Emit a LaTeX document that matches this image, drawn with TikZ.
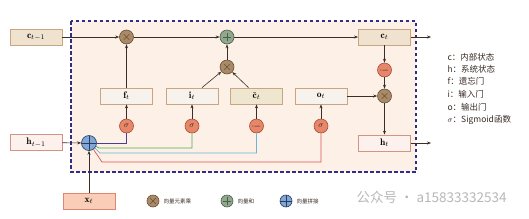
\documentclass[tikz,border=0pt]{standalone}
\usepackage{fontspec}
\newfontfamily\cjk{Noto Sans CJK SC}
\usetikzlibrary{arrows.meta}
\definecolor{bgin}{HTML}{FDF1E7}
\definecolor{navy}{HTML}{2E2E88}
\definecolor{tan}{HTML}{C9A584}
\definecolor{cfill}{HTML}{EFE2CF}
\definecolor{gfill}{HTML}{F7F2EC}
\definecolor{ctfill}{HTML}{EEE6CF}
\definecolor{hline}{HTML}{D49484}
\definecolor{hfill}{HTML}{FCF1EC}
\definecolor{xfill}{HTML}{F9CDB8}
\definecolor{xline}{HTML}{DD8770}
\definecolor{brownf}{HTML}{A98A68}
\definecolor{brownd}{HTML}{6B5030}
\definecolor{greenf}{HTML}{8FA88E}
\definecolor{greend}{HTML}{4A5E48}
\definecolor{bluef}{HTML}{7FA8D8}
\definecolor{blued}{HTML}{2B3A5C}
\definecolor{salf}{HTML}{E8866A}
\definecolor{sald}{HTML}{A84E3A}
\definecolor{ink}{HTML}{3A2E28}
\definecolor{lpurple}{HTML}{4B3F8F}
\definecolor{lgreen}{HTML}{4CAF50}
\definecolor{lblue}{HTML}{6BB5D6}
\definecolor{lred}{HTML}{D9534F}
\tikzset{
  box/.style={draw=tan, line width=0.8pt, minimum width=52pt, minimum height=16pt, inner sep=0pt, font=\fontsize{9.5}{10}\selectfont},
  cstate/.style={box, fill=cfill},
  gatebox/.style={box, fill=gfill},
  ctbox/.style={box, fill=ctfill},
  hbox/.style={box, draw=hline, fill=hfill},
  xbox/.style={box, draw=xline, fill=xfill},
  circ/.style={circle, minimum size=14pt, inner sep=0pt, line width=0.6pt},
  mulc/.style={circ, fill=brownf, draw=brownd, path picture={\draw[brownd, line width=0.4pt, shift={(path picture bounding box.center)}] (-2.8,-2.8)--(2.8,2.8) (-2.8,2.8)--(2.8,-2.8);}},
  addc/.style={circ, fill=greenf, draw=greend, path picture={\draw[greend, line width=0.5pt, shift={(path picture bounding box.center)}] (-4,0)--(4,0) (0,-4)--(0,4);}},
  catc/.style={circ, minimum size=15pt, fill=bluef, draw=blued, path picture={\draw[blued, line width=0.8pt, shift={(path picture bounding box.center)}] (-8,0)--(8,0) (0,-8)--(0,8);}},
  sigc/.style={circ, fill=salf, draw=sald, font=\fontsize{8}{8}\selectfont, text=ink},
  tanhc/.style={circ, fill=salf, draw=sald, font=\fontsize{3}{3}\selectfont, text=ink},
  arr/.style={draw=ink, line width=0.6pt, -{Stealth[length=4pt,width=3pt]}},
  feed/.style={line width=0.7pt},
  legtext/.style={anchor=west, font=\cjk\fontsize{8.5}{10}\selectfont, text=ink},
  smalltext/.style={anchor=west, font=\cjk\fontsize{5.5}{6}\selectfont, text=ink},
}
\begin{document}
\begin{tikzpicture}[x=1pt,y=-1pt]
\useasboundingbox (0,0) rectangle (529,218);
\fill[white] (0,0) rectangle (529,218);
% cell area
\draw[navy, fill=bgin, line width=1.3pt, dash pattern=on 3.5pt off 2.5pt] (71,21) rectangle (416,172);
% boxes
\node[cstate] (cprev) at (36,37) {$\mathbf{c}_{t-1}$};
\node[cstate] (ct) at (384.5,37) {$\mathbf{c}_{t}$};
\node[gatebox] (ft) at (126.5,96) {$\mathbf{f}_{t}$};
\node[gatebox] (it) at (192,96) {$\mathbf{i}_{t}$};
\node[ctbox] (cta) at (256.5,96) {$\tilde{\mathbf{c}}_{t}$};
\node[gatebox] (ot) at (321,96) {$\mathbf{o}_{t}$};
\node[hbox] (hprev) at (36,142.5) {$\mathbf{h}_{t-1}$};
\node[hbox] (ht) at (384.5,143) {$\mathbf{h}_{t}$};
\node[xbox] (xt) at (89,201) {$\mathbf{x}_{t}$};
% operators
\node[mulc] (m1) at (126.5,37) {};
\node[addc] (add) at (227,37) {};
\node[mulc] (m2) at (227,67) {};
\node[tanhc] (tc) at (384.5,70) {tanh};
\node[mulc] (m3) at (384.5,96) {};
\node[catc] (cat) at (89,143) {};
\node[sigc] (s1) at (126.5,126) {$\sigma$};
\node[sigc] (s2) at (192,126) {$\sigma$};
\node[tanhc] (s3) at (256.5,126) {tanh};
\node[sigc] (s4) at (321,126) {$\sigma$};
\coordinate (cout) at (431,37);
\coordinate (hout) at (431,143);
% connectors
\draw[arr] (cprev) -- (m1);
\draw[arr] (m1) -- (add);
\draw[arr] (add) -- (ct);
\draw[arr] (ct) -- (cout);
\draw[arr] (ft) -- (m1);
\draw[arr] ([xshift=10pt]it.north) -- (m2);
\draw[arr] ([xshift=-8pt]cta.north) -- (m2);
\draw[arr] (m2) -- (add);
\draw[arr] (ct) -- (tc);
\draw[arr] (tc) -- (m3);
\draw[arr] (ot) -- (m3);
\draw[arr] (m3) -- (ht);
\draw[arr] (ht) -- (hout);
\draw[arr] (hprev) -- (cat);
\draw[arr] (xt) -- (cat);
\draw[arr] (s1) -- (ft);
\draw[arr] (s2) -- (it);
\draw[arr] (s3) -- (cta);
\draw[arr] (s4) -- (ot);
\draw[feed, lpurple] (cat.east) -| (s1);
\draw[feed, lgreen] (cat.-25) -- (99,148) -| (s2);
\draw[feed, lblue] (cat.-40) -- (100,153) -| (s3);
\draw[feed, lred] (cat.-55) -- (102,162) -| (s4);
% legend right
\node[legtext] at (444,57) {c：内部状态};
\node[legtext] at (444,69) {h：系统状态};
\node[legtext] at (444,81) {f：遗忘门};
\node[legtext] at (444,94) {i：输入门};
\node[legtext] at (444,107) {o：输出门};
\node[legtext] at (444,120) {$\sigma$：Sigmoid函数};
% legend bottom
\node[mulc, minimum size=12pt] (lg1) at (153,201) {};
\node[smalltext] at (160,201) {向量元素乘};
\node[addc, minimum size=12pt] (lg2) at (227,201) {};
\node[smalltext] at (234,201) {向量和};
\node[catc, minimum size=12pt] (lg3) at (286,201) {};
\node[smalltext] at (293,201) {向量拼接};
% watermark
\node[anchor=west, font=\cjk\fontsize{13.5}{14}\selectfont, text=black!28] at (353,197) {公众号 · a15833332534};
\end{tikzpicture}
\end{document}
